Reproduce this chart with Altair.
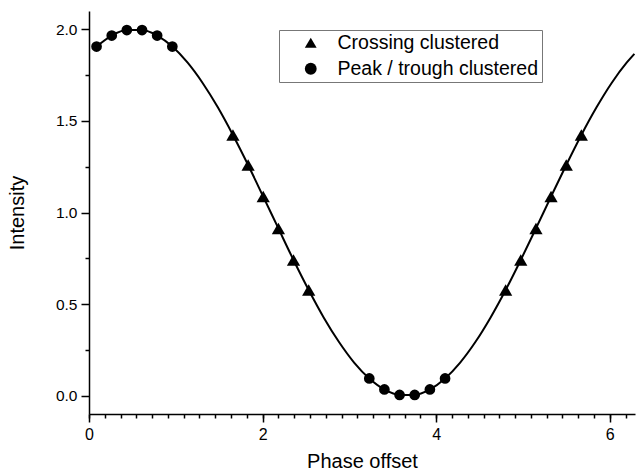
import altair as alt
import pandas as pd

# Fitted curve
curve_x = [0.087, 0.262, 0.436, 0.611, 0.785, 0.960, 1.134, 1.309, 1.484, 1.658,
           1.833, 2.007, 2.182, 2.356, 2.531, 2.705, 2.880, 3.054, 3.229, 3.403,
           3.578, 3.752, 3.927, 4.102, 4.276, 4.451, 4.625, 4.800, 4.974, 5.149,
           5.323, 5.498, 5.672, 5.847, 6.021, 6.196, 6.283]
curve_y = [1.906, 1.966, 1.996, 1.996, 1.966, 1.906, 1.819, 1.707, 1.574, 1.423,
           1.259, 1.087, 0.913, 0.741, 0.577, 0.426, 0.293, 0.181, 0.094, 0.034,
           0.004, 0.004, 0.034, 0.094, 0.181, 0.293, 0.426, 0.577, 0.741, 0.913,
           1.087, 1.259, 1.423, 1.574, 1.707, 1.819, 1.866]

# Markers
cross_x = [1.658, 1.833, 2.007, 2.182, 2.356, 2.531, 4.800, 4.974, 5.149, 5.323, 5.498, 5.672]
cross_y = [1.423, 1.259, 1.087, 0.913, 0.741, 0.577, 0.577, 0.741, 0.913, 1.087, 1.259, 1.423]
peak_x = [0.087, 0.262, 0.436, 0.611, 0.785, 0.960, 3.229, 3.403, 3.578, 3.752, 3.927, 4.102]
peak_y = [1.906, 1.966, 1.996, 1.996, 1.966, 1.906, 0.094, 0.034, 0.004, 0.004, 0.034, 0.094]

series_names = ["Crossing clustered", "Peak / trough clustered"]

# Ticks
x_major = [0, 2, 4, 6]
x_minor = [round(2 * k / 11, 4) for k in range(35)]
y_major = [0.0, 0.5, 1.0, 1.5, 2.0]
y_minor = [0.25, 0.75, 1.25, 1.75]

curve_df = pd.DataFrame({"x": curve_x, "y": curve_y})
cross_df = pd.DataFrame({"x": cross_x, "y": cross_y, "series": series_names[0]})
peak_df = pd.DataFrame({"x": peak_x, "y": peak_y, "series": series_names[1]})

FONT = "Liberation Sans"
xs = alt.Scale(domain=[0, 6.29], nice=False, zero=False)
ys = alt.Scale(domain=[-0.1, 2.1], nice=False, zero=False)

x_axis = alt.Axis(values=x_major, orient="bottom", format="d", grid=False,
                  tickSize=8, tickWidth=1.5, tickColor="black",
                  domainWidth=1.5, domainColor="black",
                  labelFontSize=16, labelColor="black", labelPadding=4, labelFont=FONT,
                  labelFlush=False,
                  title="Phase offset", titleFontSize=20, titleFontWeight="normal",
                  titleColor="black", titleFont=FONT, titlePadding=9)
y_axis = alt.Axis(values=y_major, orient="left", format=".1f", grid=False,
                  tickSize=8, tickWidth=1.5, tickColor="black",
                  domainWidth=1.5, domainColor="black",
                  labelFontSize=15.5, labelColor="black", labelPadding=4, labelFont=FONT,
                  labelFlush=False,
                  title="Intensity", titleFontSize=20, titleFontWeight="normal",
                  titleColor="black", titleFont=FONT, titlePadding=28)

shape_scale = alt.Scale(domain=series_names, range=["triangle-up", "circle"])
legend = alt.Legend(title=None, orient="none", legendX=190, legendY=19,
                    strokeColor="#777777", fillColor="white",
                    padding=3, symbolOffset=19, labelOffset=17,
                    labelFontSize=19.5, labelFont=FONT, labelColor="black",
                    labelLimit=400,
                    symbolSize=140, rowPadding=5,
                    symbolFillColor="black", symbolStrokeColor="black",
                    symbolStrokeWidth=0)

line = alt.Chart(curve_df).mark_line(color="black", strokeWidth=2, interpolate="monotone").encode(
    x=alt.X("x:Q", scale=xs, axis=x_axis),
    y=alt.Y("y:Q", scale=ys, axis=y_axis),
)

tri = alt.Chart(cross_df).mark_point(filled=True, opacity=1, color="black", size=175).encode(
    x=alt.X("x:Q", scale=xs, axis=x_axis),
    y=alt.Y("y:Q", scale=ys, axis=y_axis),
    shape=alt.Shape("series:N", scale=shape_scale, legend=legend),
)
dots = alt.Chart(peak_df).mark_point(filled=True, opacity=1, color="black", size=115).encode(
    x=alt.X("x:Q", scale=xs, axis=x_axis),
    y=alt.Y("y:Q", scale=ys, axis=y_axis),
    shape=alt.Shape("series:N", scale=shape_scale, legend=legend),
)

minor = alt.Chart(peak_df).mark_point(opacity=0).encode(
    x=alt.X("x:Q", scale=xs,
            axis=alt.Axis(values=x_minor, orient="bottom", labels=False, domain=False, grid=False,
                          tickSize=4, tickWidth=1.5, tickColor="black", title=None)),
    y=alt.Y("y:Q", scale=ys,
            axis=alt.Axis(values=y_minor, orient="left", labels=False, domain=False, grid=False,
                          tickSize=4, tickWidth=1.5, tickColor="black", title=None)),
)

chart = alt.layer(alt.layer(line, tri, dots), minor).resolve_axis(
    x="independent", y="independent"
).properties(
    width=546, height=403,
    padding={"left": 89, "top": 11, "right": 1, "bottom": 57},
    autosize=alt.AutoSizeParams(type="none"),
    background="white",
).configure_view(stroke=None)

chart.save("out.html", embed_options={"renderer": "svg", "actions": False})
